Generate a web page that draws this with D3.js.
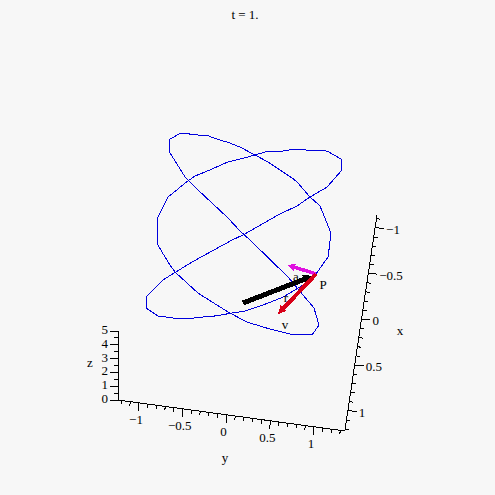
<!DOCTYPE html>
<html><head><meta charset="utf-8">
<script src="https://cdn.jsdelivr.net/npm/d3@7"></script>
<style>html,body{margin:0;padding:0;background:#f7f7f7}svg{display:block}text{font-family:"Liberation Serif",serif;font-size:13px;fill:#000}</style>
</head><body><div id="chart"></div>
<script>
const title = "t = 1.";
// Curve, as projected positions in y-axis units (across) and z-axis units (up)
const curveAcross = [1.023,1.160,1.171,1.194,1.069,0.954,0.806,0.749,0.474,0.326,0.154,0.040,-0.109,-0.234,-0.326,-0.520,-0.646,-0.646,-0.623,-0.474,-0.326,0.006,0.154,0.269,0.703,0.874,1.000,1.057,0.977,0.726,0.497,0.234,0.040,-0.074,-0.326,-0.589,-0.646,-0.737,-0.783,-0.783,-0.794,-0.669,-0.623,-0.474,-0.360,-0.189,0.017,0.154,0.326,0.440,0.646,0.783,0.897,1.149,1.309,1.309,1.149,0.954,0.806,0.589,0.189,0.063,-0.394,-0.726,-0.909,-0.920,-0.783,-0.611,-0.474,-0.280,-0.131,0.063,0.211,0.417,0.646,0.874,1.023];
const curveUp = [9.13,10.36,10.87,12.10,14.06,14.71,15.80,16.09,17.25,17.75,18.33,18.62,18.91,19.20,19.20,19.35,18.91,17.90,17.68,16.16,15.22,13.26,12.25,11.59,8.91,7.61,6.67,5.43,4.71,4.78,5.14,5.65,6.30,6.74,7.75,9.28,9.78,10.72,11.23,11.81,13.12,14.71,14.93,15.72,16.23,16.67,17.25,17.46,17.75,17.97,18.04,18.19,18.12,18.04,17.46,16.59,15.43,14.71,14.06,13.41,11.96,11.59,10.00,8.70,7.54,6.67,6.09,5.94,5.87,6.01,6.09,6.30,6.45,6.88,7.46,8.33,9.13];
const vectorNames = ["a","r","v"];
const vectorFromAcross = [1.023,0.189,1.023];
const vectorFromUp = [9.13,7.03,9.13];
const vectorToAcross = [0.703,0.989,0.589];
const vectorToUp = [9.78,8.99,6.23];
const vectorColors = ["#e010e0","#000000","#d80018"];
const vectorWidths = [3.5,5,4];
const yTickLabels = ["\u22121","\u22120.5","0","0.5","1"];
const yTickValues = [-1,-0.5,0,0.5,1];
const xTickLabels = ["\u22121","\u22120.5","0","0.5","1"];
const xTickValues = [-1,-0.5,0,0.5,1];
const zTickValues = [0,1,2,3,4,5];
const W = 495, H = 495;
const svg = d3.select("#chart").append("svg").attr("width",W).attr("height",H);
svg.append("rect").attr("width",W).attr("height",H).attr("fill","#f7f7f7");

// Axis scales
const yPx = d3.scaleLinear().domain([-1.24,1.354]).range([118,345]);
const yPy = d3.scaleLinear().domain([-1.24,1.354]).range([400,431]);
const xPx = d3.scaleLinear().domain([-1.14,1.21]).range([377,345]);
const xPy = d3.scaleLinear().domain([-1.14,1.21]).range([215,430]);
const zPy = d3.scaleLinear().domain([0,5]).range([400,331]);
const px = d3.scaleLinear().domain([0,1]).range([226.5,314]);
const py = zPy;

const axes = svg.append("g").attr("stroke","#000").attr("stroke-width",1).attr("fill","none").attr("shape-rendering","crispEdges");
function seg(x1,y1,x2,y2){axes.append("line").attr("x1",x1).attr("y1",y1).attr("x2",x2).attr("y2",y2);}
// z axis
seg(118,zPy(0),118,zPy(5));
d3.range(0,5.01,0.5).forEach(v=>{const major=Math.abs(v%1)<1e-6;seg(118,zPy(v),118-(major?8:4),zPy(v));});
// y axis
seg(yPx(-1.24),yPy(-1.24),yPx(1.354),yPy(1.354));
d3.range(-1.2,1.31,0.1).forEach(v=>{const major=Math.abs(v*2-Math.round(v*2))<1e-6;seg(yPx(v),yPy(v),yPx(v)-0.5,yPy(v)+(major?8:4));});
// x axis
seg(xPx(-1.14),xPy(-1.14),xPx(1.21),xPy(1.21));
d3.range(-1.1,1.21,0.1).forEach(v=>{const major=Math.abs(v*2-Math.round(v*2))<1e-6;seg(xPx(v),xPy(v),xPx(v)+(major?9:4),xPy(v)+0.5);});

// Curve
const pts = curveAcross.map((a,i)=>[px(a),py(curveUp[i])]);
svg.append("path").attr("d",d3.line()(pts)).attr("fill","none").attr("stroke","#0000dd").attr("stroke-width",1).attr("shape-rendering","crispEdges");

// Vectors
function arrow(i){
  const x1=px(vectorFromAcross[i]),y1=py(vectorFromUp[i]),x2=px(vectorToAcross[i]),y2=py(vectorToUp[i]);
  const L=Math.hypot(x2-x1,y2-y1),ux=(x2-x1)/L,uy=(y2-y1)/L,nx=-uy,ny=ux,w=vectorWidths[i];
  const hl=w*2,hw=w*1.05;
  const bx=x2-ux*hl,by=y2-uy*hl;
  svg.append("line").attr("x1",x1).attr("y1",y1).attr("x2",bx).attr("y2",by).attr("stroke",vectorColors[i]).attr("stroke-width",w).attr("shape-rendering","crispEdges");
  svg.append("polygon").attr("fill",vectorColors[i]).attr("shape-rendering","crispEdges").attr("points",[[x2,y2],[bx+nx*hw,by+ny*hw],[bx-nx*hw,by-ny*hw]].join(" "));
}
[0,1,2].forEach(arrow);

// Text
function label(t,x,y,anchor){svg.append("text").attr("x",x).attr("y",y).attr("text-anchor",anchor||"middle").text(t);}
label(title,245,19);
label("z",90,367); label("y",225,462); label("x",400,335);
label("P",323,289); label("a",296,281); label("r",286,302); label("v",285,329);
zTickValues.forEach(v=>label(String(v),108,zPy(v)+3,"end"));
yTickValues.forEach((v,i)=>label(yTickLabels[i],yPx(v)-3,yPy(v)+21));
xTickValues.forEach((v,i)=>label(xTickLabels[i],xPx(v)+11,xPy(v)+6,"start"));
</script></body></html>
